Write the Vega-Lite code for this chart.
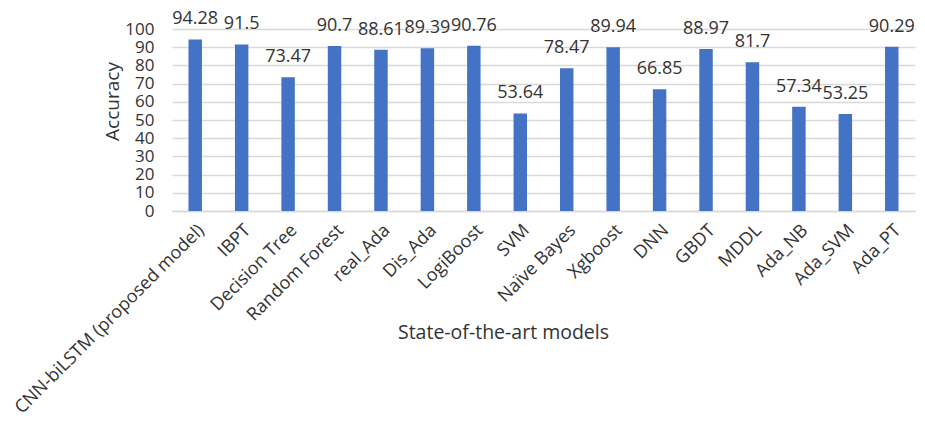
{
  "$schema": "https://vega.github.io/schema/vega-lite/v6.json",
  "autosize": {"type": "none"},
  "width": 743,
  "height": 182,
  "padding": {"left": 172, "top": 29, "right": 10, "bottom": 211},
  "background": "white",
  "config": {
    "font": "Open Sans",
    "view": {"stroke": null}
  },
  "data": {
    "values": [
      {"model": "CNN-biLSTM (proposed model)", "accuracy": 94.28},
      {"model": "IBPT", "accuracy": 91.5},
      {"model": "Decision Tree", "accuracy": 73.47},
      {"model": "Random Forest", "accuracy": 90.7},
      {"model": "real_Ada", "accuracy": 88.61},
      {"model": "Dis_Ada", "accuracy": 89.39},
      {"model": "LogiBoost", "accuracy": 90.76},
      {"model": "SVM", "accuracy": 53.64},
      {"model": "Naïve Bayes", "accuracy": 78.47},
      {"model": "Xgboost", "accuracy": 89.94},
      {"model": "DNN", "accuracy": 66.85},
      {"model": "GBDT", "accuracy": 88.97},
      {"model": "MDDL", "accuracy": 81.7},
      {"model": "Ada_NB", "accuracy": 57.34},
      {"model": "Ada_SVM", "accuracy": 53.25},
      {"model": "Ada_PT", "accuracy": 90.29}
    ]
  },
  "encoding": {
    "x": {
      "field": "model",
      "type": "nominal",
      "sort": null,
      "scale": {"paddingInner": 0, "paddingOuter": 0},
      "axis": {
        "title": "State-of-the-art models",
        "titleFontSize": 19.5,
        "titleFontWeight": "normal",
        "titleColor": "#333333",
        "titleX": 331,
        "titleY": 127,
        "titleBaseline": "alphabetic",
        "labelAngle": -45,
        "labelAlign": "right",
        "labelBaseline": "top",
        "labelPadding": 10,
        "labelFontSize": 18,
        "labelColor": "#333333",
        "labelLimit": 0,
        "labelOverlap": false,
        "ticks": false,
        "domain": true,
        "domainColor": "#d9d9d9",
        "domainWidth": 1.5,
        "grid": false
      }
    },
    "y": {
      "field": "accuracy",
      "type": "quantitative",
      "scale": {"domain": [0, 100], "nice": false},
      "axis": {
        "title": "Accuracy",
        "titleFontSize": 19,
        "titleFontWeight": "normal",
        "titleColor": "#333333",
        "titleAngle": -90,
        "titleX": -60,
        "titleY": 72,
        "titleAlign": "center",
        "titleBaseline": "middle",
        "values": [0, 10, 20, 30, 40, 50, 60, 70, 80, 90, 100],
        "labelFontSize": 17,
        "labelColor": "#333333",
        "labelPadding": 18,
        "labelOverlap": false,
        "ticks": false,
        "domain": false,
        "grid": true,
        "gridColor": "#d9d9d9",
        "gridWidth": 1.5
      }
    }
  },
  "layer": [
    {
      "mark": {"type": "bar", "color": "#4472C4", "width": {"band": 0.29}}
    },
    {
      "mark": {
        "type": "text",
        "baseline": "middle",
        "align": "center",
        "dy": -20,
        "fontSize": 18,
        "color": "#333333"
      },
      "encoding": {"text": {"field": "accuracy", "type": "quantitative"}}
    }
  ]
}
